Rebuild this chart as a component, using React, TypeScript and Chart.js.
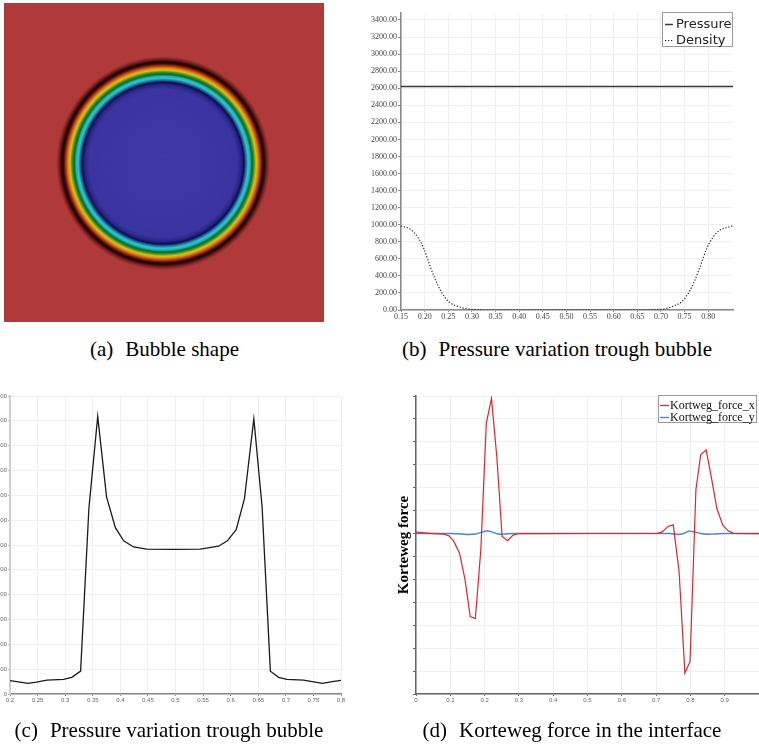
import React, { useEffect, useRef } from 'react';
import { Chart, registerables } from 'chart.js';
Chart.register(...registerables);

// ---------- Panel (a): bubble shape (radial field) ----------
const bubbleCenter = [0.497, 0.498];
const ringRadii = [0, 0.231, 0.244, 0.253, 0.259, 0.266, 0.272, 0.277, 0.281, 0.286, 0.291, 0.297, 0.303, 0.311, 0.316, 0.325, 0.334];
const ringColors = ['#3d39a6', '#3934a0', '#2a2688', '#0d0d50', '#1a6a9a', '#2ec8c8', '#20b0b0', '#0b6a50', '#1a7a18', '#6aa010', '#d8c020', '#e08818', '#b84010', '#3a0808', '#200404', '#7a2020', '#b03a3a'];

// ---------- Panel (b): pressure & density ----------
const pressureX = [0.15, 0.8525];
const pressureY = [2620, 2620];
const densityX = [0.15, 0.17, 0.187, 0.198, 0.212, 0.223, 0.237, 0.251, 0.272, 0.3, 0.35, 0.4, 0.45, 0.5, 0.55, 0.6, 0.65, 0.7, 0.727, 0.744, 0.758, 0.772, 0.783, 0.797, 0.811, 0.825, 0.846, 0.8525];
const densityY = [985, 946, 840, 723, 508, 352, 196, 98, 39, 8, 2, 2, 2, 2, 2, 2, 2, 8, 47, 98, 196, 352, 508, 723, 860, 938, 977, 985];
const bXTicks = [0.15, 0.2, 0.25, 0.3, 0.35, 0.4, 0.45, 0.5, 0.55, 0.6, 0.65, 0.7, 0.75, 0.8];
const bYTicks = [0, 200, 400, 600, 800, 1000, 1200, 1400, 1600, 1800, 2000, 2200, 2400, 2600, 2800, 3000, 3200, 3400];

// ---------- Panel (c): pressure variation ----------
const cX = [0.2, 0.233, 0.248, 0.267, 0.297, 0.312, 0.328, 0.343, 0.359, 0.375, 0.391, 0.406, 0.424, 0.448, 0.496, 0.545, 0.578, 0.594, 0.61, 0.625, 0.642, 0.657, 0.672, 0.687, 0.702, 0.732, 0.766, 0.787, 0.8];
const cY = [54, 43, 48, 56, 59, 67, 92, 747, 1118, 794, 670, 617, 592, 583, 582, 583, 595, 617, 662, 787, 1109, 753, 92, 67, 59, 56, 43, 51, 55];
const cXTicks = [0.2, 0.25, 0.3, 0.35, 0.4, 0.45, 0.5, 0.55, 0.6, 0.65, 0.7, 0.75, 0.8];
const cXLabels = ['0.2', '0.25', '0.3', '0.35', '0.4', '0.45', '0.5', '0.55', '0.6', '0.65', '0.7', '0.75', '0.8'];
const cYTicks = [0, 100, 200, 300, 400, 500, 600, 700, 800, 900, 1000, 1100, 1200];

// ---------- Panel (d): Korteweg force ----------
const fxX = [0, 0.041, 0.08, 0.095, 0.109, 0.127, 0.143, 0.158, 0.173, 0.189, 0.205, 0.22, 0.236, 0.251, 0.267, 0.283, 0.298, 0.314, 0.704, 0.718, 0.735, 0.75, 0.767, 0.784, 0.799, 0.816, 0.83, 0.846, 0.862, 0.877, 0.894, 0.91, 0.926, 1.0];
const fxY = [0.06, 0.01, -0.03, -0.09, -0.31, -0.86, -2.02, -3.62, -3.71, -0.71, 4.81, 5.9, 3.28, -0.13, -0.31, -0.07, -0.01, 0, 0.01, 0.07, 0.31, 0.38, -1.66, -6.09, -5.58, 1.9, 3.43, 3.65, 2.37, 1.1, 0.38, 0.12, 0.01, 0];
const fyX = [0, 0.1, 0.13, 0.155, 0.175, 0.19, 0.205, 0.215, 0.23, 0.245, 0.26, 0.28, 0.74, 0.765, 0.78, 0.795, 0.81, 0.83, 0.85, 0.87, 0.9, 1.0];
const fyY = [0, 0, -0.02, -0.04, -0.02, 0.05, 0.11, 0.1, 0.02, -0.03, -0.02, 0, 0, -0.04, 0, 0.1, 0.08, 0, -0.03, -0.02, 0, 0];
const dXTicks = [0, 0.1, 0.2, 0.3, 0.4, 0.5, 0.6, 0.7, 0.8, 0.9, 1.0];
const dXLabels = ['0', '0.1', '0.2', '0.3', '0.4', '0.5', '0.6', '0.7', '0.8', '0.9', ''];
const dYTicks = [-7, -6, -5, -4, -3, -2, -1, 0, 1, 2, 3, 4, 5, 6];

const pts = (xs: number[], ys: number[]) => xs.map((x, i) => ({ x, y: ys[i] }));

const bubbleField = {
  id: 'bubbleField',
  beforeDatasetsDraw(chart: any) {
    const { ctx, chartArea, scales } = chart;
    const cx = scales.x.getPixelForValue(bubbleCenter[0]);
    const cy = scales.y.getPixelForValue(bubbleCenter[1]);
    const rmax = ringRadii[ringRadii.length - 1];
    const rpx = Math.abs(scales.x.getPixelForValue(rmax) - scales.x.getPixelForValue(0));
    const g = ctx.createRadialGradient(cx, cy, 0, cx, cy, rpx);
    ringRadii.forEach((r, i) => g.addColorStop(r / rmax, ringColors[i]));
    ctx.save();
    ctx.fillStyle = g;
    ctx.fillRect(chartArea.left, chartArea.top, chartArea.width, chartArea.height);
    ctx.restore();
  },
};

const boxLegend = {
  id: 'boxLegend',
  afterDraw(chart: any, _a: any, o: any) {
    if (!o || !o.show) return;
    const { ctx, chartArea } = chart;
    ctx.save();
    ctx.font = o.font;
    const dss = chart.data.datasets;
    const textW = Math.max(...dss.map((d: any) => ctx.measureText(d.label).width));
    const w = Math.round(o.textOffset + textW + o.padRight);
    const h = o.padTop + o.rowHeight * (dss.length - 1) + o.padBottom;
    const right = Math.round(chartArea.right + o.dx);
    const left = right - w;
    const top = Math.round(chartArea.top + o.dy);
    ctx.fillStyle = '#fff';
    ctx.fillRect(left, top, w, h);
    ctx.strokeStyle = o.borderColor;
    ctx.lineWidth = 1;
    ctx.strokeRect(left + 0.5, top + 0.5, w - 1, h - 1);
    dss.forEach((d: any, i: number) => {
      const cy = top + o.padTop + i * o.rowHeight;
      ctx.beginPath();
      ctx.setLineDash(d.borderDash || []);
      ctx.strokeStyle = d.borderColor;
      ctx.lineWidth = d.borderWidth;
      ctx.moveTo(left + o.sampleStart, cy + 0.5);
      ctx.lineTo(left + o.sampleEnd, cy + 0.5);
      ctx.stroke();
      ctx.setLineDash([]);
      ctx.fillStyle = o.color;
      ctx.textBaseline = 'middle';
      ctx.textAlign = 'left';
      ctx.fillText(d.label, left + o.textOffset, cy + 1);
    });
    ctx.restore();
  },
};

const fixW = (w: number) => (s: any) => {
  s.width = w;
  s.paddingTop = 0; s.paddingBottom = 0; s.paddingLeft = 0; s.paddingRight = 0;
};
const fixH = (h: number) => (s: any) => {
  s.height = h;
  s.paddingTop = 0; s.paddingBottom = 0; s.paddingLeft = 0; s.paddingRight = 0;
};
const setTicks = (vals: number[]) => (s: any) => {
  s.ticks = vals.map((v) => ({ value: v }));
};

const baseOpts = {
  responsive: false,
  animation: false,
  events: [],
};

function ChartBox({ left, top, width, height, config }: any) {
  const ref = useRef<HTMLCanvasElement>(null);
  useEffect(() => {
    const chart = new Chart(ref.current as HTMLCanvasElement, config);
    return () => chart.destroy();
  }, []);
  return (
    <canvas
      ref={ref}
      width={width}
      height={height}
      style={{ position: 'absolute', left, top, width, height }}
    />
  );
}

const configA: any = {
  type: 'scatter',
  data: { datasets: [{ label: 'bubble', data: [{ x: bubbleCenter[0], y: bubbleCenter[1] }], pointRadius: 0 }] },
  options: {
    ...baseOpts,
    layout: { padding: 0 },
    plugins: { legend: { display: false }, tooltip: { enabled: false } },
    scales: {
      x: { type: 'linear', min: 0, max: 1, display: false },
      y: { type: 'linear', min: 0, max: 1, display: false },
    },
  },
  plugins: [bubbleField],
};

const configB: any = {
  type: 'line',
  data: {
    datasets: [
      { label: 'Pressure', data: pts(pressureX, pressureY), borderColor: '#3a3a3a', borderWidth: 1.5, pointRadius: 0 },
      { label: 'Density', data: pts(densityX, densityY), borderColor: '#222', borderWidth: 1.2, borderDash: [1.2, 1.8], pointRadius: 0, cubicInterpolationMode: 'monotone' },
    ],
  },
  options: {
    ...baseOpts,
    layout: { padding: { top: 13, right: 17, bottom: 0, left: 0 } },
    plugins: {
      legend: { display: false },
      tooltip: { enabled: false },
      boxLegend: { show: true, font: '13px "DejaVu Sans"', color: '#222', borderColor: '#999', padTop: 12, rowHeight: 16, padBottom: 7, sampleStart: 3, sampleEnd: 11, textOffset: 14, padRight: 1, dx: 0, dy: -1 },
    },
    scales: {
      x: {
        type: 'linear', min: 0.15, max: 0.8525,
        afterBuildTicks: setTicks(bXTicks), afterFit: fixH(20),
        ticks: { font: { family: 'Liberation Serif', size: 8 }, color: '#444', padding: 0, maxRotation: 0, autoSkip: false, callback: (v: any) => Number(v).toFixed(2) },
        grid: { color: '#efefef', lineWidth: 1, tickLength: 2, tickColor: '#888' },
        border: { color: '#888', width: 1.5 },
      },
      y: {
        type: 'linear', min: 0, max: 3482,
        afterBuildTicks: setTicks(bYTicks), afterFit: fixW(41),
        ticks: { font: { family: 'Liberation Serif', size: 8 }, color: '#444', padding: 1, autoSkip: false, callback: (v: any) => Number(v).toFixed(2) },
        grid: { color: '#efefef', lineWidth: 1, tickLength: 3, tickColor: '#888' },
        border: { color: '#888', width: 1.5 },
      },
    },
  },
  plugins: [boxLegend],
};

const configC: any = {
  type: 'line',
  data: {
    datasets: [
      { label: 'Pressure', data: pts(cX, cY), borderColor: '#1a1a1a', borderWidth: 1.3, pointRadius: 0 },
    ],
  },
  options: {
    ...baseOpts,
    layout: { padding: { top: 16, right: 9, bottom: 0, left: 0 } },
    plugins: { legend: { display: false }, tooltip: { enabled: false } },
    scales: {
      x: {
        type: 'linear', min: 0.2, max: 0.8,
        afterBuildTicks: setTicks(cXTicks), afterFit: fixH(26),
        ticks: { font: { family: 'Liberation Sans', size: 6 }, color: '#666', padding: 1, maxRotation: 0, autoSkip: false, callback: (_v: any, i: number) => cXLabels[i] },
        grid: { color: '#f0f0f0', lineWidth: 1, tickLength: 2, tickColor: '#888' },
        border: { color: '#888', width: 1.5 },
      },
      y: {
        type: 'linear', min: 0, max: 1200,
        afterBuildTicks: setTicks(cYTicks), afterFit: fixW(40),
        ticks: { font: { family: 'Liberation Sans', size: 6 }, color: '#666', padding: 1, autoSkip: false, callback: (v: any) => String(v) },
        grid: { color: '#f0f0f0', lineWidth: 1, tickLength: 2, tickColor: '#aaa' },
        border: { color: '#cfcfcf', width: 2 },
      },
    },
  },
};

const configD: any = {
  type: 'line',
  data: {
    datasets: [
      { label: 'Kortweg_force_x', data: pts(fxX, fxY), borderColor: '#e3242b', borderWidth: 1.2, pointRadius: 0 },
      { label: 'Kortweg_force_y', data: pts(fyX, fyY), borderColor: '#4a86c8', borderWidth: 1.4, pointRadius: 0, tension: 0.4 },
    ],
  },
  options: {
    ...baseOpts,
    layout: { padding: { top: 16, right: 7, bottom: 0, left: 0 } },
    plugins: {
      legend: { display: false },
      tooltip: { enabled: false },
      boxLegend: { show: true, font: '12px "Liberation Serif"', color: '#111', borderColor: '#999', padTop: 10, rowHeight: 12, padBottom: 6, sampleStart: 2, sampleEnd: 11, textOffset: 12, padRight: 2, dx: -2, dy: -1 },
    },
    scales: {
      x: {
        type: 'linear', min: 0, max: 1,
        afterBuildTicks: setTicks(dXTicks), afterFit: fixH(26),
        ticks: { font: { family: 'Liberation Sans', size: 6 }, color: '#666', padding: 1, maxRotation: 0, autoSkip: false, callback: (_v: any, i: number) => dXLabels[i] },
        grid: { color: '#efefef', lineWidth: 1, tickLength: 2, tickColor: '#666' },
        border: { color: '#666', width: 1.5 },
      },
      y: {
        type: 'linear', min: -7, max: 6,
        afterBuildTicks: setTicks(dYTicks), afterFit: fixW(25),
        ticks: { display: false },
        title: { display: true, text: 'Korteweg force', font: { family: 'Liberation Serif', size: 15, weight: 'bold' }, color: '#000', padding: { top: 4, bottom: 0 } },
        grid: { color: '#efefef', lineWidth: 1, tickLength: 3, tickColor: '#666' },
        border: { color: '#666', width: 1.5 },
      },
    },
  },
  plugins: [boxLegend],
};

const captionStyle = (cx: number, top: number): React.CSSProperties => ({
  position: 'absolute',
  left: cx - 250,
  top,
  width: 500,
  textAlign: 'center',
  fontFamily: '"Liberation Serif", "Times New Roman", serif',
  fontSize: 21,
  lineHeight: 1,
  color: '#000',
  whiteSpace: 'nowrap',
});

export default function App() {
  return (
    <div style={{ position: 'absolute', left: 0, top: 0, width: 759, height: 744, overflow: 'hidden', background: '#fff' }}>
      <ChartBox left={4} top={3} width={320} height={319} config={configA} />
      <ChartBox left={360} top={0} width={390} height={330} config={configB} />
      <ChartBox left={-30} top={380} width={380} height={340} config={configC} />
      <ChartBox left={391} top={380} width={375} height={340} config={configD} />
      <div style={captionStyle(164.5, 339)}>(a)<span style={{ marginLeft: 12 }}>Bubble shape</span></div>
      <div style={captionStyle(557, 339)}>(b)<span style={{ marginLeft: 12 }}>Pressure variation trough bubble</span></div>
      <div style={captionStyle(169, 720)}>(c)<span style={{ marginLeft: 12 }}>Pressure variation trough bubble</span></div>
      <div style={captionStyle(572, 720)}>(d)<span style={{ marginLeft: 12 }}>Korteweg force in the interface</span></div>
    </div>
  );
}
